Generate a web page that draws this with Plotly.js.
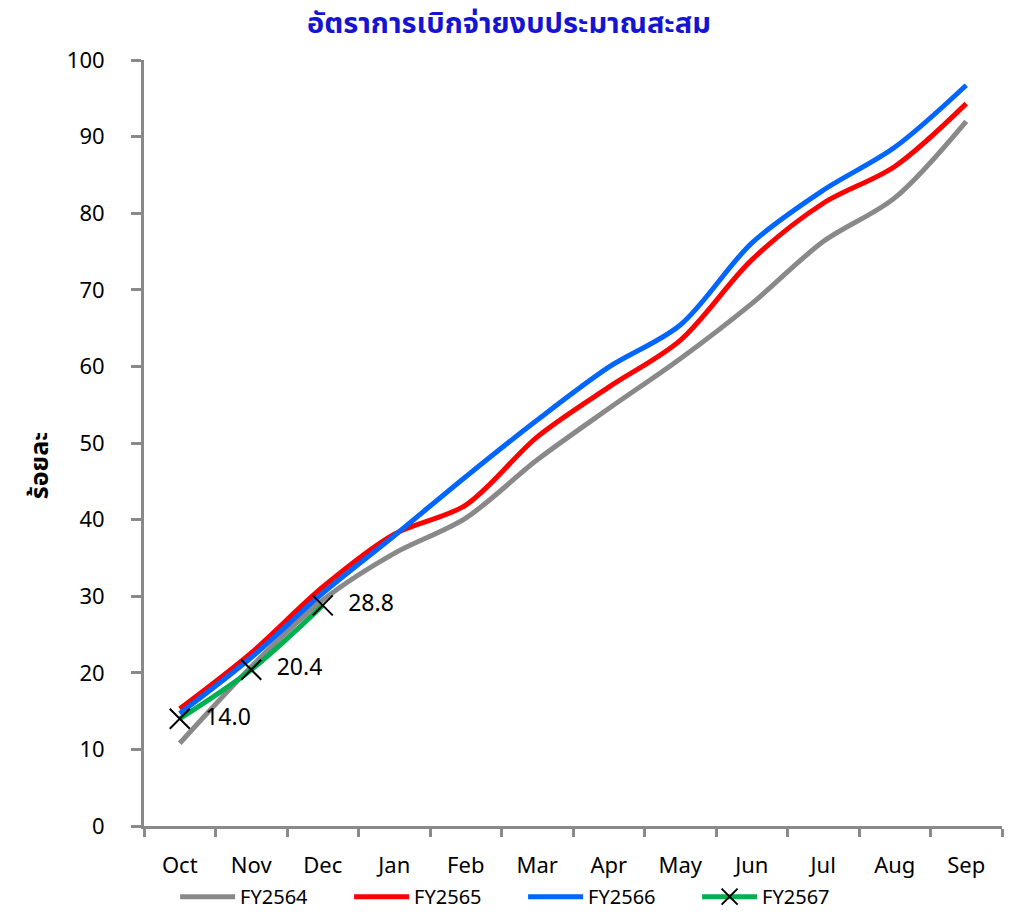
<!DOCTYPE html>
<html>
<head>
<meta charset="utf-8">
<script src="https://cdn.plot.ly/plotly-3.0.1.min.js"></script>
<style>html,body{margin:0;padding:0;background:#fff;}#chart{width:1018px;height:914px;}</style>
</head>
<body>
<div id="chart"></div>
<script>
const months = ["Oct","Nov","Dec","Jan","Feb","Mar","Apr","May","Jun","Jul","Aug","Sep"];
const fy2564 = [10.8, 20.8, 29.5, 35.6, 40.2, 47.8, 54.5, 61.0, 68.2, 76.3, 82.0, 92.0];
const fy2565 = [15.3, 22.6, 31.2, 38.1, 41.9, 50.8, 57.3, 63.4, 73.9, 81.3, 86.1, 94.3];
const fy2566 = [14.7, 22.0, 30.4, 37.9, 45.6, 53.0, 59.9, 65.4, 76.1, 83.0, 88.6, 96.7];
const fy2567 = [14.0, 20.4, 28.8];
const seriesNames = ["FY2564","FY2565","FY2566","FY2567"];
const chartTitle = "อัตราการเบิกจ่ายงบประมาณสะสม";
const yTitle = "ร้อยละ";

const FONT = "Tahoma, 'Noto Sans Thai', 'Noto Sans', 'DejaVu Sans', sans-serif";

const base = {type:"scatter", mode:"lines", x:months, line:{shape:"spline", smoothing:0.9, width:5}, hoverinfo:"x+y+name"};
const traces = [
  Object.assign({}, base, {name:seriesNames[0], y:fy2564, line:Object.assign({}, base.line, {color:"#898989"})}),
  Object.assign({}, base, {name:seriesNames[1], y:fy2565, line:Object.assign({}, base.line, {color:"#FF0000"})}),
  Object.assign({}, base, {name:seriesNames[2], y:fy2566, line:Object.assign({}, base.line, {color:"#0066FF"})}),
  {type:"scatter", mode:"lines+markers+text", name:seriesNames[3], x:months.slice(0, fy2567.length), y:fy2567,
   line:{shape:"spline", smoothing:0.9, width:5, color:"#00B050"},
   marker:{symbol:"x-thin", size:20, color:"#000", line:{color:"#000", width:2}},
   text:fy2567.map(v => v.toFixed(1)), texttemplate:"  %{text}", textposition:"middle right",
   textfont:{family:FONT, size:23, color:"#000"}, cliponaxis:false}
];

const layout = {
  width:1018, height:914,
  margin:{l:144, r:16, t:60, b:88},
  paper_bgcolor:"#fff", plot_bgcolor:"#fff",
  font:{family:FONT, color:"#000"},
  title:{text:"<b>"+chartTitle+"</b>", font:{family:FONT, size:29, color:"#1414D2"}, x:0.5, xanchor:"center", y:0.975, yanchor:"middle"},
  showlegend:true,
  legend:{orientation:"h", xref:"container", yref:"container", x:0.172, xanchor:"left", y:0.019, yanchor:"middle",
          font:{family:FONT, size:20, color:"#000"},
          itemwidth:55, entrywidth:104, entrywidthmode:"pixels", traceorder:"normal", bgcolor:"rgba(0,0,0,0)"},
  annotations:[{text:"<b>"+yTitle+"</b>", xref:"paper", yref:"paper", x:-0.121, y:0.47, xanchor:"center", yanchor:"middle",
                textangle:-90, showarrow:false, font:{family:FONT, size:25, color:"#000"}}],
  xaxis:{type:"category", range:[-0.5, 11.5], showline:true, linecolor:"#898989", linewidth:3,
         ticks:"outside", tickson:"boundaries", ticklen:8, tickwidth:3, tickcolor:"#898989",
         showgrid:false, zeroline:false, tickfont:{family:FONT, size:22, color:"#000"}, ticklabelstandoff:18, fixedrange:true},
  yaxis:{range:[0,100], dtick:10, showline:true, linecolor:"#898989", linewidth:3,
         ticks:"outside", ticklen:10, tickwidth:3, tickcolor:"#898989", showgrid:false, zeroline:false,
         tickfont:{family:FONT, size:22, color:"#000"}, ticklabelstandoff:22, fixedrange:true}
};

Plotly.newPlot("chart", traces, layout, {displayModeBar:false});
</script>
</body>
</html>
